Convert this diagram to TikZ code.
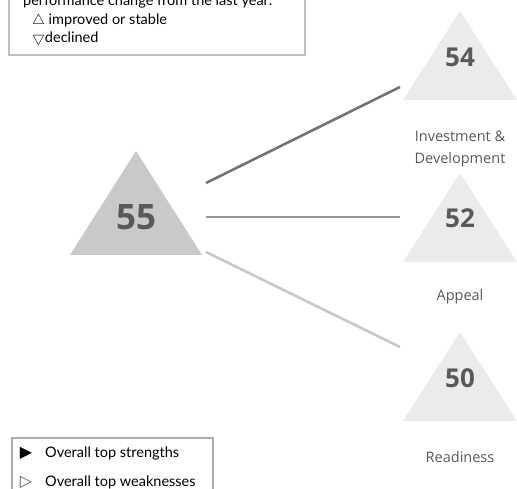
\documentclass[tikz,border=0pt]{standalone}
\usepackage{amssymb}
\usepackage{fontspec}
\setmainfont{Open Sans}
\newfontfamily\legendfont{Lato}
\newfontfamily\symbolfont{DejaVu Sans}
\definecolor{numgray}{HTML}{595959}
\definecolor{bigfill}{HTML}{C9C9C9}
\definecolor{smallfill}{HTML}{EBEBEB}
\definecolor{lineA}{HTML}{737373}
\definecolor{lineB}{HTML}{969696}
\definecolor{lineC}{HTML}{C8C8C8}
\definecolor{boxgray}{HTML}{BFBFBF}
\begin{document}
\begin{tikzpicture}[
			x=1pt, y=-1pt,
			big num/.style={font=\bfseries\fontsize{35}{35}\selectfont, text=numgray},
			small num/.style={font=\bfseries\fontsize{26}{26}\selectfont, text=numgray},
			area label/.style={font=\fontsize{14.5}{22}\selectfont, text=numgray, align=center},
			legend text/.style={font=\legendfont\fontsize{14.5}{14.5}\selectfont, anchor=west, inner sep=0pt},
			link line/.style={line width=2.6pt},
			legend box/.style={draw=boxgray, line width=1.2pt}
			]
			\useasboundingbox (0,0) rectangle (517,489);
			\clip (0,0) rectangle (517,489);
			% overall score
			\fill[bigfill] (70,255) -- (136,151) -- (202,255) -- cycle;
			\node[big num] (total) at (136,217) {55};
			% pillars
			\fill[smallfill] (403,100) -- (460,11) -- (517,100) -- cycle;
			\node[small num] (invnum) at (460,57) {54};
			\node[area label] (invlab) at (460,149) {Investment \&\\Development};
			\fill[smallfill] (403,262) -- (460,173) -- (517,262) -- cycle;
			\node[small num] (appnum) at (460,218) {52};
			\node[area label] (applab) at (460,297) {Appeal};
			\fill[smallfill] (403,421) -- (460,332) -- (517,421) -- cycle;
			\node[small num] (readnum) at (460,378) {50};
			\node[area label] (readlab) at (460,457) {Readiness};
			% links
			\coordinate (inv in) at (400,87);
			\coordinate (app in) at (400,217);
			\coordinate (read in) at (400,347);
			\coordinate (out1) at (206,183);
			\coordinate (out2) at (206,217);
			\coordinate (out3) at (206,252);
			\draw[link line, lineA] (out1) -- (inv in);
			\draw[link line, lineB] (out2) -- (app in);
			\draw[link line, lineC] (out3) -- (read in);
			% legend: change
			\draw[legend box] (9,-30) rectangle (305,55);
			\node[legend text] (chg) at (23,1) {performance change from the last year:};
			\node[legend text] (up) at (32,21) {$\bigtriangleup$ improved or stable};
			\node[legend text] (down) at (32,39) {$\bigtriangledown$declined};
			% legend: strengths
			\draw[legend box, draw=boxgray!90!black] (12,438) rectangle (213,520);
			\node[font=\symbolfont\fontsize{16}{16}\selectfont, inner sep=0pt] (strsym) at (26,453) {▶};
			\node[font=\symbolfont\fontsize{16}{16}\selectfont, inner sep=0pt, text=numgray] (weaksym) at (26,482) {▷};
			\node[legend text] (str) at (45,453) {Overall top strengths};
			\node[legend text] (weak) at (45,482) {Overall top weaknesses};
		\end{tikzpicture}
\end{document}
